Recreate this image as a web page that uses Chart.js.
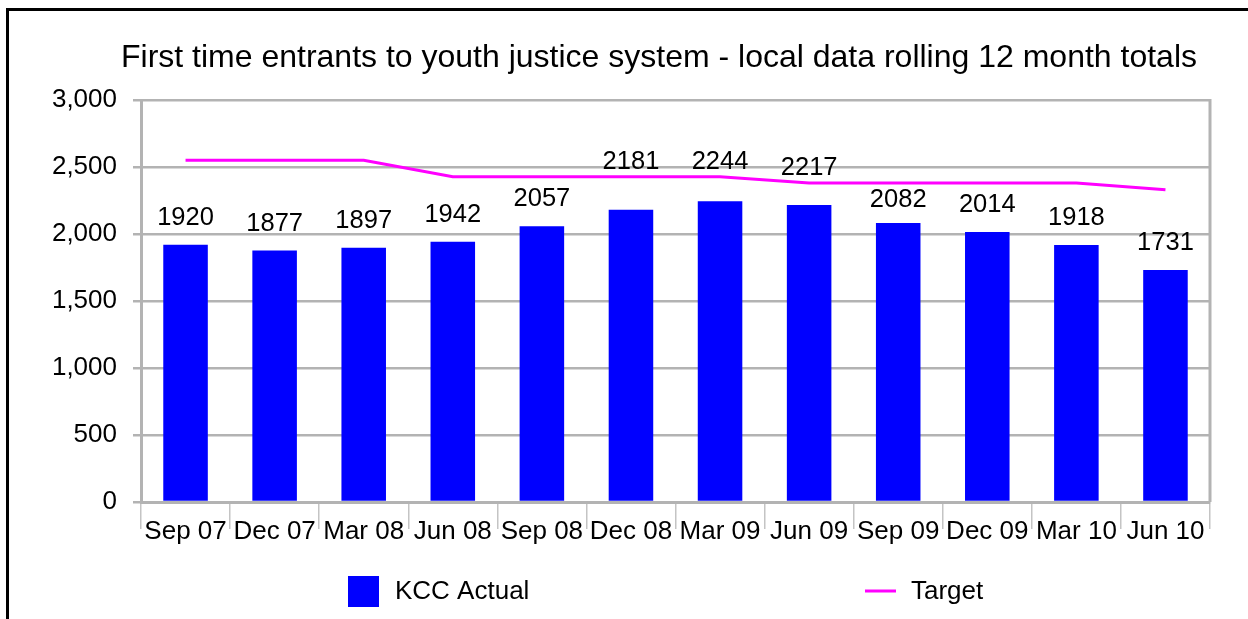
<!DOCTYPE html>
<html><head><meta charset="utf-8">
<script src="https://cdn.jsdelivr.net/npm/chart.js@4.4.0/dist/chart.umd.min.js"></script>
<style>html,body{margin:0;padding:0;background:#fff;overflow:hidden}#wrap{position:relative;width:1248px;height:619px}</style>
</head><body><div id="wrap"><canvas id="c" width="1248" height="619"></canvas></div>
<script>
const categories = ['Sep 07','Dec 07','Mar 08','Jun 08','Sep 08','Dec 08','Mar 09','Jun 09','Sep 09','Dec 09','Mar 10','Jun 10'];
const kccActual = [1920,1877,1897,1942,2057,2181,2244,2217,2082,2014,1918,1731];
const target = [2550,2550,2550,2428,2428,2428,2428,2380,2380,2380,2380,2330];
const yTicks = [0,500,1000,1500,2000,2500,3000];
const seriesNames = ['KCC Actual','Target'];
const titleText = 'First time entrants to youth justice system - local data rolling 12 month totals';

const FONT = '"Liberation Sans", Arial, sans-serif';
const GRID = '#b3b3b3';

const decorPlugin = {
  id: 'decor',
  beforeDraw(chart) {
    const ctx = chart.ctx;
    ctx.save();
    ctx.fillStyle = '#fff';
    ctx.fillRect(0, 0, chart.width, chart.height);
    ctx.fillStyle = '#000';
    ctx.fillRect(6, 8, 3, chart.height);
    ctx.fillRect(6, 8, chart.width, 3);
    ctx.font = '32px ' + FONT;
    ctx.textAlign = 'center';
    ctx.textBaseline = 'alphabetic';
    ctx.fillText(titleText, 659, 67);
    ctx.restore();
  },
  afterDraw(chart) {
    const ctx = chart.ctx, a = chart.chartArea;
    ctx.save();
    ctx.strokeStyle = GRID;
    ctx.lineWidth = 3;
    ctx.beginPath();
    ctx.moveTo(a.right, a.top - 1);
    ctx.lineTo(a.right, a.bottom);
    ctx.stroke();
    // legend
    const ds = chart.data.datasets;
    ctx.font = '26px ' + FONT;
    ctx.textAlign = 'left';
    ctx.textBaseline = 'middle';
    ctx.fillStyle = ds[0].backgroundColor;
    ctx.fillRect(348, 576, 31, 31);
    ctx.fillStyle = '#000';
    ctx.fillText(ds[0].label, 395, 592);
    ctx.strokeStyle = ds[1].borderColor;
    ctx.lineWidth = 3;
    ctx.beginPath();
    ctx.moveTo(865, 591);
    ctx.lineTo(896, 591);
    ctx.stroke();
    ctx.fillText(ds[1].label, 911, 592);
    ctx.restore();
  },
  afterDatasetsDraw(chart) {
    const ctx = chart.ctx;
    const barMeta = chart.getDatasetMeta(0), lineMeta = chart.getDatasetMeta(1);
    ctx.save();
    ctx.font = '25.5px ' + FONT;
    ctx.fillStyle = '#000';
    ctx.textAlign = 'center';
    ctx.textBaseline = 'middle';
    barMeta.data.forEach((bar, i) => {
      let y = bar.y - 27;
      const ly = lineMeta.data[i].y;
      const d = y - ly;
      if (Math.abs(d) < 14) y = d > 8 ? ly + 17 : ly - 15;
      ctx.fillText(String(kccActual[i]), bar.x, y);
    });
    ctx.restore();
  }
};

new Chart(document.getElementById('c'), {
  type: 'bar',
  data: {
    labels: categories,
    datasets: [
      { type: 'bar', label: seriesNames[0], data: kccActual, backgroundColor: '#0000ff', barPercentage: 0.5, categoryPercentage: 1.0, order: 2 },
      { type: 'line', label: seriesNames[1], data: target, borderColor: '#ff00ff', backgroundColor: '#ff00ff', borderWidth: 3, pointRadius: 0, fill: false, tension: 0, order: 1 }
    ]
  },
  options: {
    responsive: false,
    animation: false,
    devicePixelRatio: 1,
    layout: { padding: { left: 0, right: 38, top: 100, bottom: 67 } },
    plugins: { legend: { display: false }, title: { display: false }, tooltip: { enabled: false } },
    scales: {
      x: {
        grid: { offset: true, drawOnChartArea: false, drawTicks: true, tickLength: 27, color: '#c4c4c4', lineWidth: 1.5 },
        border: { display: true, color: GRID, width: 3 },
        ticks: { color: '#000', font: { size: 26, family: FONT }, padding: -13, maxRotation: 0, autoSkip: false },
        afterFit: s => { s.height = 50; }
      },
      y: {
        min: 0, max: 3000,
        afterBuildTicks: s => { s.ticks = yTicks.map(v => ({ value: v })); },
        ticks: { color: '#000', font: { size: 26, family: FONT }, padding: 16, callback: v => v.toLocaleString('en-US') },
        grid: { color: GRID, lineWidth: 2.5, tickLength: 8 },
        border: { color: GRID, width: 3 },
        afterFit: s => { s.width = 141; }
      }
    }
  },
  plugins: [decorPlugin]
});
</script></body></html>
